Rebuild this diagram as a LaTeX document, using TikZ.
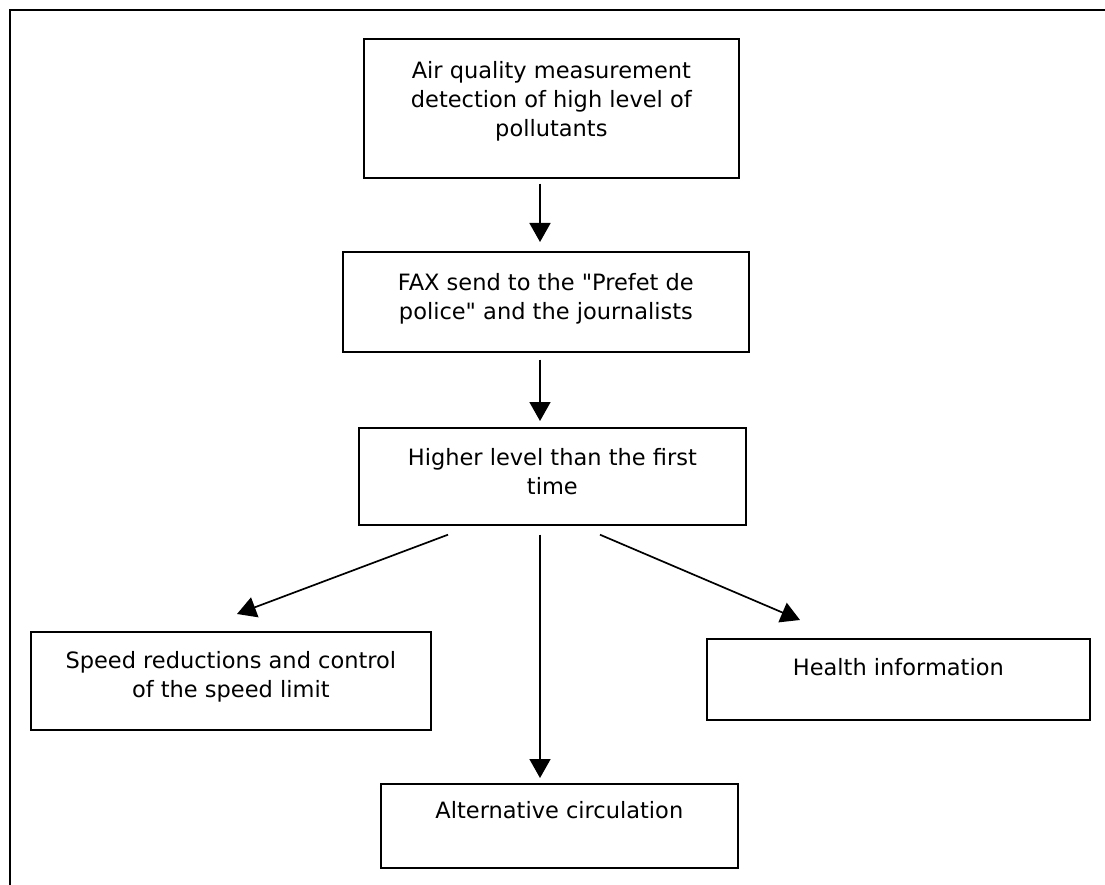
\documentclass[tikz,border=0pt]{standalone}
\usepackage{fontspec}
\setmainfont{DejaVu Sans}[Ligatures=TeXOff]
\usetikzlibrary{arrows.meta,calc}
\newcommand{\mybox}[4]{\parbox[c][#2][t]{#1}{\centering\rule{0pt}{#3}#4}}
\tikzset{
  flowbox/.style={draw, line width=1.7pt, inner sep=0pt, anchor=north west,
    font=\fontsize{22.5}{29}\selectfont},
  arr/.style={line width=1.7pt, -{Triangle[length=19pt,width=21pt]}},
  frameline/.style={line width=2pt}
}
\begin{document}
\begin{tikzpicture}[x=1pt,y=-1pt]
\useasboundingbox (0,0) rectangle (1105,885);
\draw[frameline] (10,885) -- (10,10) -- (1105,10);

\node[flowbox] (b1) at (363,38) {\mybox{375pt}{139pt}{40pt}{Air quality measurement\\detection of high level of\\pollutants}};
\node[flowbox] (b2) at (342,251) {\mybox{406pt}{100pt}{39pt}{FAX send to the "Prefet de\\police" and the journalists}};
\node[flowbox] (b3) at (358,427) {\mybox{387pt}{97pt}{38pt}{Higher level than the first\\time}};
\node[flowbox] (b4) at (30,631) {\mybox{400pt}{98pt}{37pt}{Speed reductions and control\\of the speed limit}};
\node[flowbox] (b5) at (706,638) {\mybox{383pt}{81pt}{37pt}{Health information}};
\node[flowbox] (b6) at (380,783) {\mybox{357pt}{84pt}{35pt}{Alternative circulation}};

\coordinate (axis) at (540,0);
\draw[arr, shorten <=5pt, shorten >=9pt] (axis |- b1.south) -- (axis |- b2.north);
\draw[arr, shorten <=7pt, shorten >=6pt] (axis |- b2.south) -- (axis |- b3.north);
\draw[arr] ($(b3.south west)+(90,9)$) -- ($(b4.north west)+(207,-17)$);
\draw[arr, shorten <=9pt, shorten >=5pt] (axis |- b3.south) -- (axis |- b6.north);
\draw[arr] ($(b3.south west)+(242,9)$) -- ($(b5.north west)+(94,-18)$);
\end{tikzpicture}
\end{document}
